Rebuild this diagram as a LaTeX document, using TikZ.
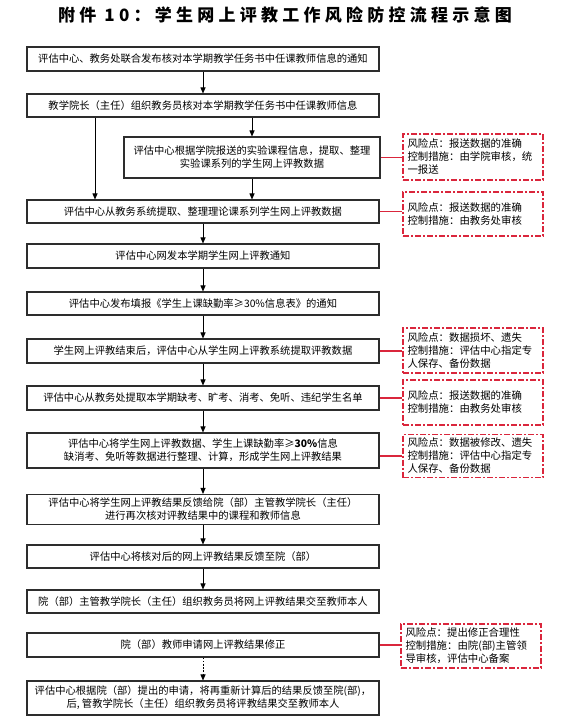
\documentclass[tikz,border=0pt]{standalone}
\usepackage{fontspec}
\setmainfont{Noto Sans CJK SC}
\usetikzlibrary{arrows.meta}
\definecolor{riskred}{RGB}{218,38,60}
\definecolor{boxline}{RGB}{45,45,45}
\tikzset{
  mainbox/.style={draw=boxline, line width=1.1pt, inner sep=0pt, minimum width=352pt,
    align=center, font=\fontsize{10.3}{13}\selectfont, text=black},
  riskbox/.style={draw=riskred, line width=1.2pt, dash pattern=on 6pt off 2pt on 2pt off 2pt,
    inner sep=0pt, minimum width=140pt, minimum height=45pt, text width=131pt, align=left,
    font=\fontsize{10.4}{13}\selectfont, text=black},
  flow/.style={draw=black, line width=0.9pt, -{Triangle[length=6pt,width=5pt]}},
  dotflow/.style={flow, dash pattern=on 1.6pt off 1.6pt},
  link/.style={draw=riskred, line width=1.1pt},
}
\begin{document}
\begin{tikzpicture}[x=1pt,y=-1pt]
\useasboundingbox (0,0) rectangle (561,724);
\fill[white] (0,0) rectangle (561,724);

\node (title) at (285,15) {\fontsize{17}{17}\selectfont\bfseries\addfontfeature{LetterSpace=25}附件 10：学生网上评教工作风险防控流程示意图};

\node[mainbox, minimum height=24pt] (b1) at (203,59) {评估中心、教务处联合发布核对本学期教学任务书中任课教师信息的通知};
\node[mainbox, minimum height=23pt] (b2) at (203,105.5) {教学院长（主任）组织教务员核对本学期教学任务书中任课教师信息};
\node[mainbox, minimum width=256pt, minimum height=41pt] (b3) at (252,157.5) {评估中心根据学院报送的实验课程信息，提取、整理\\实验课系列的学生网上评教数据};
\node[mainbox, minimum height=23pt] (b4) at (203,211.5) {评估中心从教务系统提取、整理理论课系列学生网上评教数据};
\node[mainbox, minimum height=24pt] (b5) at (203,256) {评估中心网发本学期学生网上评教通知};
\node[mainbox, minimum height=23pt] (b6) at (203,303.5) {评估中心发布填报《学生上课缺勤率≥30\%信息表》的通知};
\node[mainbox, minimum height=24pt] (b7) at (203,351) {学生网上评教结束后，评估中心从学生网上评教系统提取评教数据};
\node[mainbox, minimum height=24pt] (b8) at (203,398) {评估中心从教务处提取本学期缺考、旷考、消考、免听、违纪学生名单};
\node[mainbox, minimum height=35pt] (b9) at (203,450.5) {评估中心将学生网上评教数据、学生上课缺勤率≥\textbf{30\%}信息\\缺消考、免听等数据进行整理、计算，形成学生网上评教结果};
\node[mainbox, minimum height=30pt] (b10) at (203,509.5) {评估中心将学生网上评教结果反馈给院（部）主管教学院长（主任）\\进行再次核对评教结果中的课程和教师信息};
\node[mainbox, minimum height=23pt] (b11) at (203,556.5) {评估中心将核对后的网上评教结果反馈至院（部）};
\node[mainbox, minimum height=23pt] (b12) at (203,601.5) {院（部）主管教学院长（主任）组织教务员将网上评教结果交至教师本人};
\node[mainbox, minimum height=24pt] (b13) at (203,645) {院（部）教师申请网上评教结果修正};
\node[mainbox, minimum height=34pt] (b14) at (203,698) {评估中心根据院（部）提出的申请，将再重新计算后的结果反馈至院(部)，\\后, 管教学院长（主任）组织教务员将评教结果交至教师本人};

\node[riskbox, minimum height=46pt] (r1) at (473,157) {风险点：报送数据的准确\\控制措施：由学院审核，统\\一报送};
\node[riskbox, minimum height=44pt] (r2) at (473,214) {风险点：报送数据的准确\\控制措施：由教务处审核};
\node[riskbox] (r3) at (473,350.5) {风险点：数据损坏、遗失\\控制措施：评估中心指定专\\人保存、备份数据};
\node[riskbox] (r4) at (473,402.5) {风险点：报送数据的准确\\控制措施：由教务处审核};
\node[riskbox, minimum height=43pt] (r5) at (473,456) {风险点：数据被修改、遗失\\控制措施：评估中心指定专\\人保存、备份数据};
\node[riskbox, minimum height=44pt] (r6) at (471,646) {风险点：提出修正合理性\\控制措施：由院(部)主管领\\导审核，评估中心备案};

\coordinate (lx) at (95,0);
\draw[flow] (b1) -- (b2);
\draw[flow] (b2.south -| b3) -- (b3.north);
\draw[flow] (b2.south -| lx) -- (b4.north -| lx);
\draw[flow] (b3.south) -- (b3.south |- b4.north);
\draw[flow] (b4) -- (b5);
\draw[flow] (b5) -- (b6);
\draw[flow] (b6) -- (b7);
\draw[flow] (b7) -- (b8);
\draw[flow] (b8) -- (b9);
\draw[flow] (b9) -- (b10);
\draw[flow] (b10) -- (b11);
\draw[flow] (b11) -- (b12);
\draw[dotflow] (b13) -- (b14);

\draw[link] (b3.east) -- (b3.east -| r1.west);
\draw[link] (b4.east) -- (b4.east -| r2.west);
\draw[link] (b7.east) -- (b7.east -| r3.west);
\draw[link] (b8.east) -- (b8.east -| r4.west);
\draw[link] (r5.west -| b9.east) -- (r5.west);
\draw[link] (b13.east) -- (b13.east -| r6.west);
\end{tikzpicture}
\end{document}
